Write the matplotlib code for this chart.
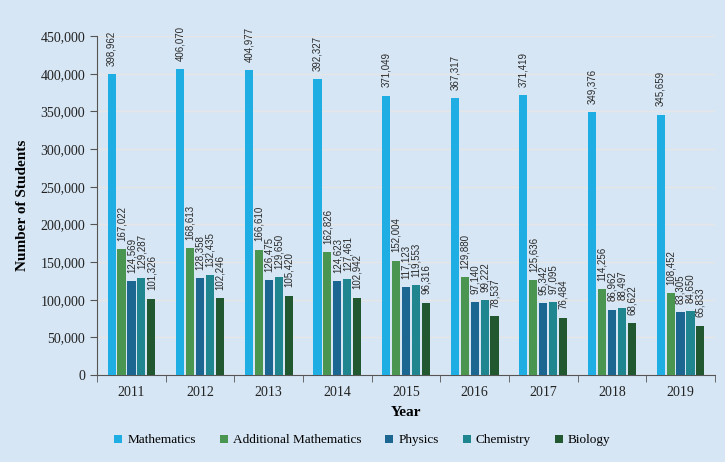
import numpy as np
import matplotlib.pyplot as plt
from matplotlib.ticker import FuncFormatter, FixedLocator

years = ["2011", "2012", "2013", "2014", "2015", "2016", "2017", "2018", "2019"]
mathematics = [398962, 406070, 404977, 392327, 371049, 367317, 371419, 349376, 345659]
add_math = [167022, 168613, 166610, 162826, 152004, 129880, 125636, 114256, 108452]
physics = [124569, 128358, 126475, 124623, 117123, 97140, 95342, 86962, 83305]
chemistry = [129287, 132435, 129650, 127461, 119553, 99222, 97095, 88497, 84650]
biology = [101326, 102246, 105420, 102942, 96316, 78537, 76484, 68622, 65833]

series = [
    ("Mathematics", mathematics, "#1eaee4"),
    ("Additional Mathematics", add_math, "#4a9650"),
    ("Physics", physics, "#1b6792"),
    ("Chemistry", chemistry, "#1f8690"),
    ("Biology", biology, "#22582f"),
]

BG = "#d6e6f4"
SERIF = "Liberation Serif"

fig = plt.figure(figsize=(7.25, 4.62), dpi=100, facecolor=BG)
ax = fig.add_axes([0.134, 0.188, 0.852, 0.734])
ax.set_facecolor(BG)

x = np.arange(len(years))
width = 0.118
step = 0.145
for i, (name, vals, color) in enumerate(series):
    pos = x + (i - 2) * step
    bars = ax.bar(pos, vals, width, color=color, label=name, zorder=3)
    for b, v in zip(bars, vals):
        ax.annotate(f"{v:,}", (b.get_x() + b.get_width() / 2, v),
                    xytext=(0, 6), textcoords="offset points",
                    rotation=90, ha="center", va="bottom", fontsize=7,
                    color="#2a2a2a", family="Liberation Sans", zorder=4)

ax.set_xlim(-0.5, len(years) - 0.5)
ax.set_ylim(0, 450000)
ax.set_yticks(np.arange(0, 450001, 50000))
ax.yaxis.set_major_formatter(FuncFormatter(lambda v, p: f"{int(v):,}"))
ax.set_xticks(x)
ax.set_xticklabels(years)
ax.xaxis.set_minor_locator(FixedLocator(np.arange(-0.5, len(years), 1.0)))
ax.tick_params(axis="x", which="major", length=0, pad=8)
ax.tick_params(axis="x", which="minor", length=5, color="#555555")
ax.tick_params(axis="y", length=5, color="#555555")
for lbl in ax.get_xticklabels() + ax.get_yticklabels():
    lbl.set_family(SERIF)
    lbl.set_fontsize(10)
    lbl.set_color("#222222")

ax.grid(axis="y", color="#e6e6e6", linewidth=1, zorder=0)
for s in ["top", "right"]:
    ax.spines[s].set_visible(False)
ax.spines["left"].set_color("#555555")
ax.spines["bottom"].set_color("#555555")

ax.set_ylabel("Number of Students", family=SERIF, fontsize=11, fontweight="bold", labelpad=8)
ax.set_xlabel("Year", family=SERIF, fontsize=11, fontweight="bold", labelpad=5)

leg = fig.legend(loc="lower center", bbox_to_anchor=(0.5, 0.008), ncol=5, frameon=False,
                 prop={"family": SERIF, "size": 9.5}, handlelength=0.6, handleheight=0.6,
                 handletextpad=0.4, columnspacing=1.8)

fig.savefig("out.png", dpi=100, facecolor=BG)
